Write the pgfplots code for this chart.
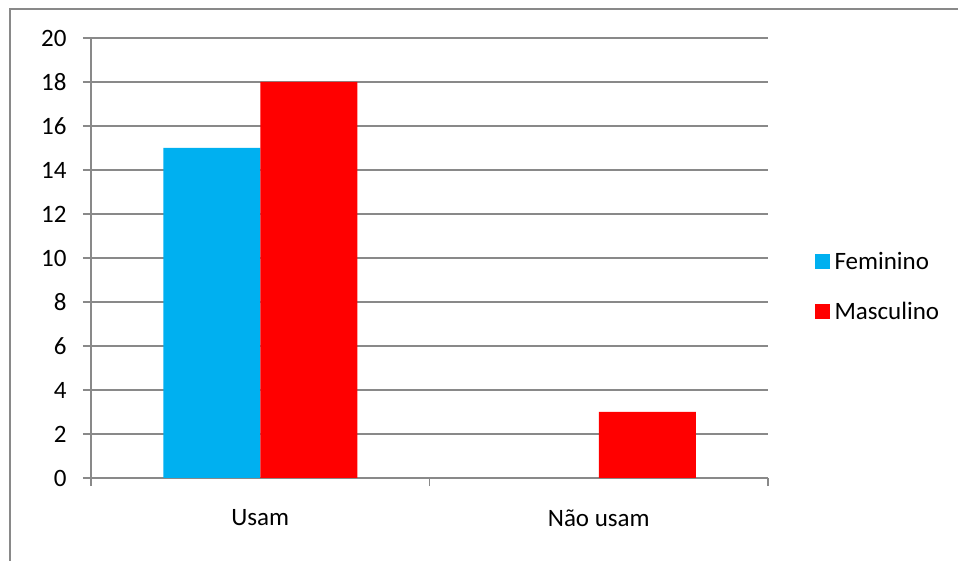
\documentclass[border=0pt]{standalone}
\usepackage{fontspec}
\setmainfont{Carlito}
\usepackage{pgfplots}
\pgfplotsset{compat=1.18}
\definecolor{fem}{HTML}{00B0F0}
\definecolor{masc}{HTML}{FF0000}
\definecolor{gridgray}{HTML}{898989}
\begin{document}
\begin{tikzpicture}[font=\fontsize{25bp}{29bp}\selectfont]
\useasboundingbox (0,0) rectangle (958bp,561bp);
\fill[white] (0,0) rectangle (958bp,561bp);
\draw[gridgray, line width=2bp] (10bp,0) -- (10bp,552bp) -- (958bp,552bp);
\begin{axis}[
  at={(91bp,83bp)}, anchor=south west,
  scale only axis, width=677bp, height=440bp,
  /pgf/number format/assume math mode=true,
  xmin=-0.5, xmax=1.5, ymin=0, ymax=20,
  ytick={0,2,...,20},
  xtick={0,1}, xticklabels={Usam, Não usam},
  minor xtick={-0.5,0.5,1.5},
  axis x line*=bottom, axis y line*=left,
  axis line style={gridgray, line width=1.5bp, -},
  every tick/.style={gridgray, line width=1.5bp},
  major tick length=8bp, minor tick length=8bp,
  tick align=outside,
  xtick style={draw=none},
  minor x tick style={draw=gridgray, line width=1.5bp},
  ymajorgrids, grid style={gridgray, line width=1.5bp},
  xticklabel style={yshift=-20bp},
  yticklabel style={xshift=-13bp},
  ybar=0pt, bar width=97bp,
  legend style={draw=none, fill=none, at={(1.064,0.435)}, anchor=west,
    row sep=27bp, legend cell align=left,
    nodes={inner xsep=5bp, inner ysep=2bp}},
  legend image code/.code={\fill[#1] (0bp,-7.5bp) rectangle (15bp,7.5bp);},
]
\addplot[fill=fem, draw=none] coordinates {(0,15) (1,0)};
\addplot[fill=masc, draw=none] coordinates {(0,18) (1,3)};
\legend{Feminino, Masculino}
\end{axis}
\end{tikzpicture}
\end{document}
